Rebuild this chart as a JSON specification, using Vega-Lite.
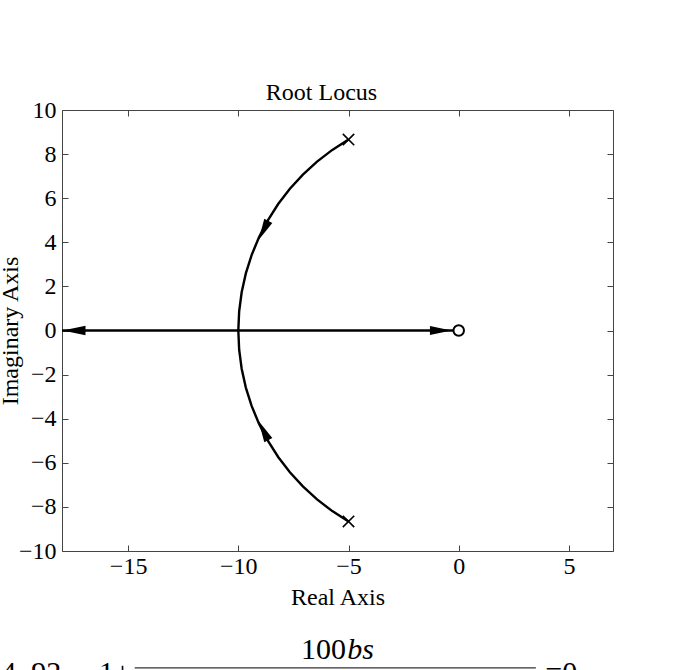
{
  "$schema": "https://vega.github.io/schema/vega-lite/v6.json",
  "width": 551,
  "height": 441,
  "autosize": "none",
  "padding": {"left": 62, "top": 110, "right": 87, "bottom": 119},
  "background": "white",
  "config": {
    "view": {"stroke": "#444", "strokeWidth": 1},
    "font": "Liberation Serif",
    "axis": {
      "labelFont": "Liberation Serif",
      "labelFontSize": 24,
      "labelColor": "black",
      "titleFont": "Liberation Serif",
      "titleFontSize": 24,
      "titleFontWeight": "normal",
      "titleColor": "black",
      "grid": false,
      "domain": false,
      "tickColor": "#444",
      "tickSize": -6,
      "tickWidth": 1
    }
  },
  "title": {
    "text": "Root Locus",
    "font": "Liberation Serif",
    "fontSize": 24,
    "fontWeight": "normal",
    "color": "black",
    "anchor": "middle",
    "offset": -7,
    "dx": -16
  },
  "datasets": {
    "locus": [
      {"branch": "upper", "k": 0, "re": -5.0, "im": 8.66},
      {"branch": "upper", "k": 1, "re": -5.736, "im": 8.192},
      {"branch": "upper", "k": 2, "re": -6.428, "im": 7.66},
      {"branch": "upper", "k": 3, "re": -7.071, "im": 7.071},
      {"branch": "upper", "k": 4, "re": -7.66, "im": 6.428},
      {"branch": "upper", "k": 5, "re": -8.192, "im": 5.736},
      {"branch": "upper", "k": 6, "re": -8.66, "im": 5.0},
      {"branch": "upper", "k": 7, "re": -9.063, "im": 4.226},
      {"branch": "upper", "k": 8, "re": -9.397, "im": 3.42},
      {"branch": "upper", "k": 9, "re": -9.659, "im": 2.588},
      {"branch": "upper", "k": 10, "re": -9.848, "im": 1.736},
      {"branch": "upper", "k": 11, "re": -9.962, "im": 0.872},
      {"branch": "upper", "k": 12, "re": -10.0, "im": 0.0},
      {"branch": "lower", "k": 0, "re": -5.0, "im": -8.66},
      {"branch": "lower", "k": 1, "re": -5.736, "im": -8.192},
      {"branch": "lower", "k": 2, "re": -6.428, "im": -7.66},
      {"branch": "lower", "k": 3, "re": -7.071, "im": -7.071},
      {"branch": "lower", "k": 4, "re": -7.66, "im": -6.428},
      {"branch": "lower", "k": 5, "re": -8.192, "im": -5.736},
      {"branch": "lower", "k": 6, "re": -8.66, "im": -5.0},
      {"branch": "lower", "k": 7, "re": -9.063, "im": -4.226},
      {"branch": "lower", "k": 8, "re": -9.397, "im": -3.42},
      {"branch": "lower", "k": 9, "re": -9.659, "im": -2.588},
      {"branch": "lower", "k": 10, "re": -9.848, "im": -1.736},
      {"branch": "lower", "k": 11, "re": -9.962, "im": -0.872},
      {"branch": "lower", "k": 12, "re": -10.0, "im": 0.0},
      {"branch": "real", "k": 0, "re": -18.0, "im": 0.0},
      {"branch": "real", "k": 1, "re": -10.0, "im": 0.0},
      {"branch": "real", "k": 2, "re": 0.0, "im": 0.0}
    ],
    "arrows": [
      {"dir": "arc-up", "re": -8.86, "im": 4.54},
      {"dir": "arc-down", "re": -8.86, "im": -4.54},
      {"dir": "right", "re": -0.82, "im": 0.0},
      {"dir": "left", "re": -17.45, "im": 0.0}
    ],
    "poles": [
      {"re": -5.0, "im": 8.66},
      {"re": -5.0, "im": -8.66}
    ],
    "zeros": [
      {"re": 0.0, "im": 0.0}
    ],
    "formula_roman": [
      {"t": "4. 92", "re": -19.4, "im": -15.92},
      {"t": "1+", "re": -15.6, "im": -15.92},
      {"t": "100", "re": -6.14, "im": -14.92},
      {"t": "=0", "re": 4.65, "im": -15.92}
    ],
    "formula_italic": [
      {"t": "bs", "re": -4.45, "im": -14.92}
    ],
    "fraction_bar": [
      {"re": -14.7, "re2": 3.5, "im": -15.3}
    ]
  },
  "resolve": {"axis": {"x": "independent", "y": "independent"}},
  "layer": [
    {
      "mark": {"type": "rule", "color": "#777", "strokeDash": [2, 4], "strokeWidth": 1.2},
      "encoding": {
        "x": {"datum": 0, "type": "quantitative", "scale": {"domain": [-18, 7], "nice": false, "zero": false}, "axis": null}
      }
    },
    {
      "mark": {"type": "rule", "color": "#777", "strokeDash": [2, 4], "strokeWidth": 1.2},
      "encoding": {
        "x": {"datum": 0, "type": "quantitative", "scale": {"domain": [-18, 7], "nice": false, "zero": false}, "axis": null},
        "x2": {"datum": 7},
        "y": {"datum": 0, "type": "quantitative", "scale": {"domain": [-10, 10], "nice": false, "zero": false}, "axis": null}
      }
    },
    {
      "data": {"name": "locus"},
      "mark": {"type": "line", "color": "black", "strokeWidth": 2.4},
      "encoding": {
        "x": {"field": "re", "type": "quantitative", "scale": {"domain": [-18, 7], "nice": false, "zero": false},
              "axis": {"orient": "bottom", "values": [-15, -10, -5, 0, 5], "title": "Real Axis", "labelPadding": 9, "titlePadding": 7}},
        "y": {"field": "im", "type": "quantitative", "scale": {"domain": [-10, 10], "nice": false, "zero": false},
              "axis": {"orient": "left", "values": [-10, -8, -6, -4, -2, 0, 2, 4, 6, 8, 10], "title": "Imaginary Axis", "labelPadding": 12, "titlePadding": -4}},
        "detail": {"field": "branch"},
        "order": {"field": "k", "type": "quantitative"}
      }
    },
    {
      "data": {"name": "arrows"},
      "transform": [{"filter": "datum.dir === 'arc-up'"}],
      "mark": {"type": "point", "shape": "M0,-1L0.42,1L-0.42,1Z", "filled": true, "color": "black", "opacity": 1, "size": 460, "angle": 207},
      "encoding": {
        "x": {"field": "re", "type": "quantitative", "scale": {"domain": [-18, 7], "nice": false, "zero": false}, "axis": null},
        "y": {"field": "im", "type": "quantitative", "scale": {"domain": [-10, 10], "nice": false, "zero": false}, "axis": null}
      }
    },
    {
      "data": {"name": "arrows"},
      "transform": [{"filter": "datum.dir === 'arc-down'"}],
      "mark": {"type": "point", "shape": "M0,-1L0.42,1L-0.42,1Z", "filled": true, "color": "black", "opacity": 1, "size": 460, "angle": 333},
      "encoding": {
        "x": {"field": "re", "type": "quantitative", "scale": {"domain": [-18, 7], "nice": false, "zero": false}, "axis": null},
        "y": {"field": "im", "type": "quantitative", "scale": {"domain": [-10, 10], "nice": false, "zero": false}, "axis": null}
      }
    },
    {
      "data": {"name": "arrows"},
      "transform": [{"filter": "datum.dir === 'right'"}],
      "mark": {"type": "point", "shape": "M0,-1L0.42,1L-0.42,1Z", "filled": true, "color": "black", "opacity": 1, "size": 460, "angle": 90},
      "encoding": {
        "x": {"field": "re", "type": "quantitative", "scale": {"domain": [-18, 7], "nice": false, "zero": false}, "axis": null},
        "y": {"field": "im", "type": "quantitative", "scale": {"domain": [-10, 10], "nice": false, "zero": false}, "axis": null}
      }
    },
    {
      "data": {"name": "arrows"},
      "transform": [{"filter": "datum.dir === 'left'"}],
      "mark": {"type": "point", "shape": "M0,-1L0.42,1L-0.42,1Z", "filled": true, "color": "black", "opacity": 1, "size": 520, "angle": 270},
      "encoding": {
        "x": {"field": "re", "type": "quantitative", "scale": {"domain": [-18, 7], "nice": false, "zero": false}, "axis": null},
        "y": {"field": "im", "type": "quantitative", "scale": {"domain": [-10, 10], "nice": false, "zero": false}, "axis": null}
      }
    },
    {
      "data": {"name": "poles"},
      "mark": {"type": "point", "shape": "M-1,-1L1,1M-1,1L1,-1", "filled": false, "color": "black", "strokeWidth": 1.6, "opacity": 1, "size": 130},
      "encoding": {
        "x": {"field": "re", "type": "quantitative", "scale": {"domain": [-18, 7], "nice": false, "zero": false},
              "axis": {"orient": "top", "values": [-15, -10, -5, 0, 5], "labels": false, "title": null}},
        "y": {"field": "im", "type": "quantitative", "scale": {"domain": [-10, 10], "nice": false, "zero": false},
              "axis": {"orient": "right", "values": [-10, -8, -6, -4, -2, 0, 2, 4, 6, 8, 10], "labels": false, "title": null}}
      }
    },
    {
      "data": {"name": "zeros"},
      "mark": {"type": "point", "shape": "circle", "filled": true, "fill": "white", "stroke": "black", "strokeWidth": 2, "opacity": 1, "size": 110},
      "encoding": {
        "x": {"field": "re", "type": "quantitative", "scale": {"domain": [-18, 7], "nice": false, "zero": false}, "axis": null},
        "y": {"field": "im", "type": "quantitative", "scale": {"domain": [-10, 10], "nice": false, "zero": false}, "axis": null}
      }
    },
    {
      "data": {"name": "formula_roman"},
      "mark": {"type": "text", "font": "Liberation Serif", "fontSize": 30, "color": "black", "align": "center", "baseline": "alphabetic"},
      "encoding": {
        "x": {"field": "re", "type": "quantitative", "scale": {"domain": [-18, 7], "nice": false, "zero": false}, "axis": null},
        "y": {"field": "im", "type": "quantitative", "scale": {"domain": [-10, 10], "nice": false, "zero": false}, "axis": null},
        "text": {"field": "t"}
      }
    },
    {
      "data": {"name": "formula_italic"},
      "mark": {"type": "text", "font": "Liberation Serif", "fontSize": 30, "fontStyle": "italic", "color": "black", "align": "center", "baseline": "alphabetic"},
      "encoding": {
        "x": {"field": "re", "type": "quantitative", "scale": {"domain": [-18, 7], "nice": false, "zero": false}, "axis": null},
        "y": {"field": "im", "type": "quantitative", "scale": {"domain": [-10, 10], "nice": false, "zero": false}, "axis": null},
        "text": {"field": "t"}
      }
    },
    {
      "data": {"name": "fraction_bar"},
      "mark": {"type": "rule", "color": "#333", "strokeWidth": 1.2},
      "encoding": {
        "x": {"field": "re", "type": "quantitative", "scale": {"domain": [-18, 7], "nice": false, "zero": false}, "axis": null},
        "x2": {"field": "re2"},
        "y": {"field": "im", "type": "quantitative", "scale": {"domain": [-10, 10], "nice": false, "zero": false}, "axis": null}
      }
    }
  ]
}
